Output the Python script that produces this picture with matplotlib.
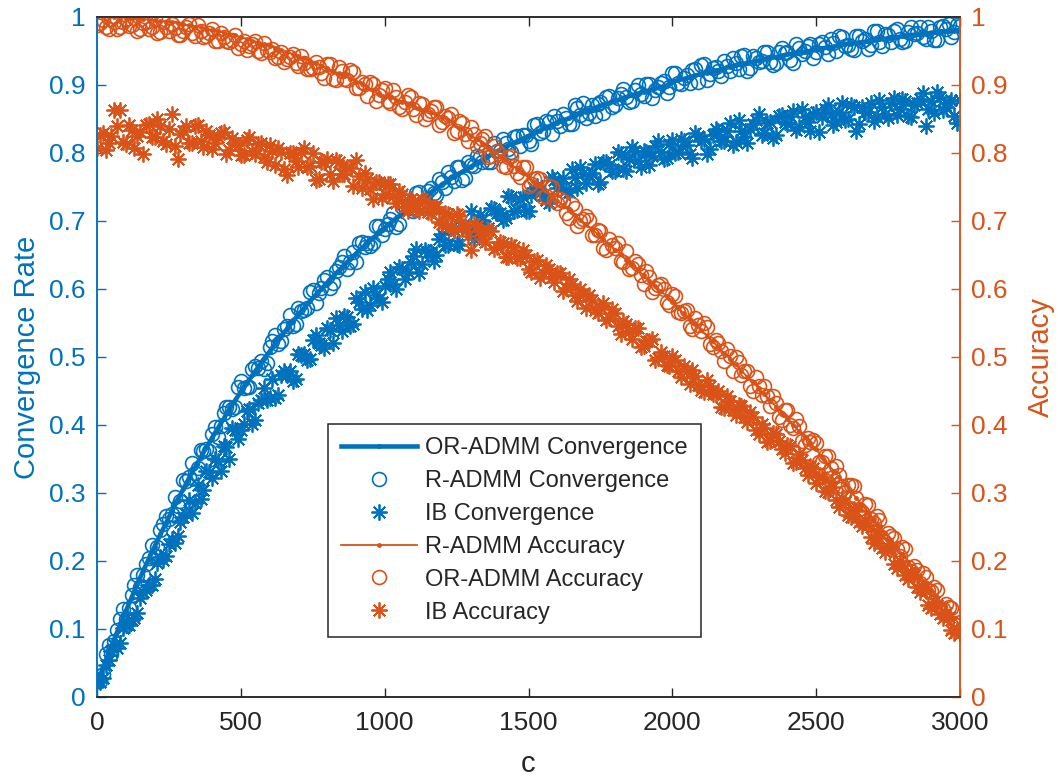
import numpy as np
import matplotlib
matplotlib.use("Agg")
import matplotlib.pyplot as plt

plt.rcParams['font.family'] = ['Liberation Sans', 'DejaVu Sans']

# c values: main samples (step 20) and the in-between samples
c = np.arange(0, 3001, 20)
c_mid = np.arange(10, 3000, 20)

or_conv = [0.020,0.042,0.064,0.085,0.106,0.126,0.146,0.166,0.185,0.203,
           0.221,0.239,0.256,0.273,0.290,0.306,0.322,0.337,0.352,0.367,
           0.381,0.395,0.409,0.423,0.436,0.449,0.461,0.473,0.485,0.497,
           0.508,0.520,0.531,0.541,0.552,0.562,0.572,0.582,0.591,0.600,
           0.609,0.618,0.627,0.635,0.644,0.652,0.660,0.667,0.675,0.682,
           0.690,0.697,0.704,0.710,0.717,0.723,0.730,0.736,0.742,0.748,
           0.753,0.759,0.765,0.770,0.775,0.780,0.785,0.790,0.795,0.800,
           0.804,0.809,0.813,0.817,0.821,0.825,0.829,0.833,0.837,0.841,
           0.844,0.848,0.851,0.855,0.858,0.861,0.864,0.868,0.871,0.873,
           0.876,0.879,0.882,0.885,0.887,0.890,0.892,0.895,0.897,0.899,
           0.905,0.907,0.909,0.911,0.914,0.916,0.918,0.920,0.922,0.924,
           0.927,0.929,0.930,0.932,0.934,0.936,0.938,0.940,0.941,0.943,
           0.945,0.946,0.948,0.949,0.950,0.953,0.954,0.955,0.956,0.958,
           0.960,0.961,0.962,0.963,0.964,0.966,0.967,0.968,0.969,0.970,
           0.972,0.973,0.974,0.974,0.975,0.977,0.978,0.979,0.979,0.980,0.981]

r_conv = [0.025,0.034,0.076,0.082,0.115,0.115,0.150,0.180,0.179,0.205,
          0.208,0.246,0.266,0.269,0.281,0.319,0.323,0.330,0.363,0.365,
          0.387,0.383,0.417,0.426,0.426,0.464,0.456,0.482,0.484,0.483,
          0.515,0.532,0.523,0.545,0.546,0.572,0.569,0.595,0.580,0.602,
          0.617,0.609,0.632,0.649,0.640,0.640,0.669,0.668,0.668,0.693,
          0.688,0.703,0.691,0.720,0.720,0.715,0.742,0.731,0.749,0.738,
          0.757,0.772,0.759,0.779,0.763,0.782,0.796,0.787,0.786,0.814,
          0.803,0.815,0.802,0.825,0.826,0.818,0.841,0.829,0.847,0.828,
          0.847,0.857,0.843,0.870,0.856,0.851,0.871,0.872,0.859,0.884,
          0.871,0.887,0.883,0.876,0.900,0.884,0.902,0.892,0.903,0.888,
          0.917,0.903,0.911,0.903,0.923,0.930,0.908,0.925,0.921,0.935,
          0.920,0.932,0.943,0.920,0.942,0.934,0.948,0.934,0.932,0.955,
          0.949,0.933,0.955,0.950,0.961,0.948,0.963,0.945,0.962,0.972,
          0.957,0.953,0.972,0.965,0.953,0.979,0.963,0.975,0.963,0.982,
          0.963,0.978,0.975,0.985,0.968,0.980,0.966,0.987,0.989,0.978,0.987]

r_conv_mid = [0.024,0.063,0.063,0.099,0.129,0.131,0.164,0.162,0.195,0.223,
              0.221,0.254,0.262,0.294,0.288,0.318,0.344,0.337,0.362,0.361,
              0.397,0.398,0.427,0.424,0.456,0.454,0.456,0.486,0.494,0.491,
              0.524,0.519,0.541,0.561,0.548,0.568,0.572,0.599,0.594,0.613,
              0.601,0.627,0.640,0.630,0.654,0.668,0.661,0.663,0.692,0.680,
              0.696,0.711,0.695,0.721,0.719,0.741,0.724,0.744,0.741,0.762,
              0.749,0.765,0.780,0.760,0.786,0.781,0.794,0.803,0.787,0.803,
              0.820,0.806,0.824,0.811,0.827,0.813,0.842,0.832,0.846,0.855,
              0.840,0.852,0.843,0.866,0.874,0.859,0.854,0.875,0.883,0.867,
              0.881,0.894,0.875,0.892,0.887,0.901,0.881,0.897,0.906,0.897,
              0.918,0.901,0.914,0.922,0.904,0.931,0.916,0.927,0.913,0.928,
              0.939,0.924,0.944,0.925,0.940,0.936,0.949,0.929,0.949,0.947,
              0.937,0.961,0.945,0.958,0.939,0.960,0.956,0.967,0.950,0.971,
              0.959,0.952,0.972,0.968,0.959,0.980,0.957,0.974,0.980,0.968,
              0.965,0.986,0.976,0.970,0.985,0.966,0.985,0.982,0.971,0.988]

ib_conv = [0.024,0.028,0.054,0.077,0.079,0.106,0.113,0.123,0.155,0.165,
           0.174,0.206,0.208,0.233,0.236,0.265,0.289,0.285,0.291,0.333,
           0.322,0.347,0.369,0.350,0.392,0.393,0.421,0.402,0.432,0.454,
           0.439,0.440,0.474,0.473,0.464,0.504,0.504,0.497,0.532,0.518,
           0.542,0.521,0.547,0.560,0.546,0.586,0.571,0.569,0.601,0.586,
           0.605,0.625,0.600,0.629,0.625,0.648,0.623,0.657,0.655,0.650,
           0.681,0.665,0.686,0.665,0.692,0.715,0.686,0.702,0.689,0.718,
           0.711,0.704,0.735,0.716,0.735,0.714,0.748,0.741,0.731,0.765,
           0.748,0.763,0.742,0.765,0.780,0.756,0.770,0.754,0.787,0.782,
           0.773,0.798,0.774,0.809,0.788,0.803,0.782,0.810,0.802,0.793,
           0.819,0.801,0.818,0.798,0.830,0.818,0.799,0.826,0.833,0.818,
           0.844,0.816,0.833,0.815,0.843,0.857,0.829,0.845,0.827,0.856,
           0.842,0.862,0.838,0.853,0.832,0.861,0.853,0.870,0.841,0.861,
           0.849,0.870,0.832,0.867,0.860,0.847,0.878,0.858,0.873,0.856,
           0.880,0.855,0.870,0.880,0.839,0.876,0.889,0.863,0.874,0.854,0.878]

ib_conv_mid = [0.022,0.047,0.068,0.072,0.102,0.106,0.116,0.145,0.158,0.165,
               0.197,0.201,0.225,0.227,0.258,0.269,0.270,0.311,0.304,0.331,
               0.350,0.333,0.368,0.396,0.380,0.401,0.424,0.408,0.437,0.436,
               0.468,0.444,0.479,0.480,0.467,0.503,0.495,0.525,0.520,0.513,
               0.540,0.557,0.538,0.559,0.548,0.581,0.595,0.577,0.591,0.581,
               0.614,0.608,0.632,0.614,0.639,0.659,0.636,0.655,0.641,0.673,
               0.664,0.690,0.666,0.691,0.690,0.674,0.709,0.693,0.719,0.711,
               0.702,0.736,0.715,0.733,0.714,0.738,0.752,0.738,0.727,0.760,
               0.756,0.746,0.776,0.748,0.771,0.768,0.784,0.757,0.786,0.774,
               0.801,0.777,0.791,0.803,0.779,0.802,0.796,0.817,0.791,0.813,
               0.800,0.821,0.812,0.793,0.825,0.821,0.806,0.836,0.818,0.832,
               0.812,0.848,0.823,0.835,0.849,0.826,0.844,0.822,0.854,0.845,
               0.855,0.834,0.864,0.846,0.857,0.831,0.864,0.857,0.845,0.873,
               0.850,0.868,0.843,0.861,0.874,0.853,0.867,0.851,0.881,0.864,
               0.876,0.853,0.874,0.888,0.865,0.859,0.883,0.867,0.878,0.844]

r_acc = [1.000,1.000,1.000,1.000,0.999,0.999,0.998,0.998,0.997,0.996,
         0.995,0.994,0.993,0.992,0.991,0.989,0.988,0.986,0.985,0.983,
         0.981,0.979,0.977,0.975,0.973,0.970,0.968,0.965,0.963,0.960,
         0.957,0.955,0.952,0.949,0.945,0.942,0.939,0.936,0.932,0.928,
         0.925,0.921,0.917,0.913,0.909,0.905,0.901,0.897,0.892,0.888,
         0.883,0.881,0.878,0.875,0.872,0.869,0.866,0.863,0.860,0.857,
         0.853,0.848,0.842,0.837,0.831,0.825,0.820,0.814,0.808,0.802,
         0.796,0.789,0.783,0.777,0.770,0.764,0.757,0.751,0.744,0.737,
         0.730,0.723,0.716,0.709,0.702,0.695,0.688,0.681,0.673,0.666,
         0.658,0.651,0.643,0.636,0.628,0.620,0.612,0.604,0.597,0.589,
         0.581,0.572,0.564,0.556,0.548,0.540,0.531,0.523,0.514,0.506,
         0.497,0.489,0.480,0.471,0.463,0.454,0.445,0.436,0.427,0.418,
         0.409,0.400,0.391,0.382,0.373,0.364,0.353,0.343,0.333,0.323,
         0.313,0.303,0.292,0.282,0.271,0.261,0.251,0.241,0.231,0.220,
         0.210,0.199,0.188,0.178,0.168,0.158,0.147,0.136,0.127,0.116,0.106]

or_acc = [0.988,0.996,0.982,0.993,0.985,0.997,0.988,0.979,0.991,0.983,
          0.997,0.978,0.985,0.989,0.974,0.980,0.989,0.972,0.980,0.972,
          0.983,0.964,0.970,0.963,0.974,0.960,0.952,0.961,0.950,0.962,
          0.948,0.940,0.949,0.938,0.946,0.928,0.933,0.924,0.934,0.918,
          0.931,0.909,0.926,0.909,0.922,0.896,0.904,0.884,0.902,0.886,
          0.895,0.873,0.883,0.864,0.886,0.864,0.873,0.850,0.862,0.868,
          0.846,0.852,0.830,0.847,0.828,0.838,0.811,0.820,0.794,0.810,
          0.797,0.779,0.795,0.771,0.779,0.752,0.761,0.762,0.736,0.750,
          0.726,0.730,0.705,0.719,0.700,0.707,0.679,0.686,0.660,0.674,
          0.660,0.641,0.656,0.631,0.637,0.608,0.618,0.601,0.608,0.581,
          0.593,0.566,0.568,0.545,0.558,0.538,0.544,0.514,0.521,0.494,
          0.502,0.500,0.473,0.480,0.450,0.457,0.457,0.428,0.433,0.408,
          0.422,0.396,0.399,0.371,0.375,0.374,0.346,0.354,0.324,0.327,
          0.301,0.311,0.293,0.272,0.283,0.256,0.260,0.228,0.237,0.217,
          0.221,0.191,0.192,0.167,0.177,0.156,0.157,0.129,0.132,0.107,0.110]

or_acc_mid = [0.991,0.985,0.997,0.982,0.992,0.987,0.999,0.982,0.992,0.986,
              0.976,0.992,0.980,0.984,0.973,0.985,0.976,0.988,0.970,0.976,
              0.964,0.977,0.964,0.966,0.954,0.964,0.957,0.965,0.947,0.952,
              0.953,0.941,0.934,0.941,0.933,0.943,0.924,0.925,0.926,0.911,
              0.931,0.908,0.920,0.908,0.919,0.895,0.901,0.905,0.877,0.892,
              0.877,0.893,0.868,0.875,0.882,0.856,0.872,0.858,0.868,0.841,
              0.854,0.857,0.833,0.844,0.817,0.828,0.815,0.825,0.796,0.803,
              0.781,0.794,0.781,0.764,0.780,0.755,0.763,0.735,0.752,0.731,
              0.733,0.712,0.725,0.692,0.703,0.702,0.680,0.685,0.658,0.664,
              0.668,0.640,0.630,0.641,0.621,0.627,0.595,0.606,0.600,0.576,
              0.589,0.564,0.569,0.541,0.547,0.550,0.519,0.525,0.509,0.512,
              0.480,0.492,0.480,0.458,0.471,0.444,0.442,0.443,0.411,0.422,
              0.400,0.409,0.377,0.381,0.378,0.345,0.354,0.336,0.339,0.310,
              0.312,0.310,0.276,0.284,0.262,0.266,0.233,0.241,0.234,0.208,
              0.217,0.185,0.186,0.183,0.157,0.161,0.131,0.136,0.131,0.106]

ib_acc = [0.807,0.829,0.815,0.863,0.863,0.813,0.834,0.825,0.798,0.843,
          0.824,0.839,0.813,0.857,0.791,0.832,0.814,0.839,0.818,0.833,
          0.806,0.824,0.831,0.805,0.815,0.797,0.819,0.803,0.813,0.794,
          0.812,0.783,0.802,0.768,0.800,0.779,0.808,0.781,0.760,0.787,
          0.791,0.759,0.786,0.769,0.778,0.790,0.748,0.761,0.733,0.758,
          0.739,0.755,0.727,0.740,0.714,0.728,0.714,0.730,0.711,0.720,
          0.696,0.710,0.685,0.707,0.692,0.657,0.693,0.673,0.687,0.659,
          0.669,0.647,0.664,0.645,0.658,0.630,0.641,0.616,0.635,0.617,
          0.623,0.597,0.614,0.591,0.600,0.572,0.584,0.565,0.579,0.557,
          0.565,0.534,0.548,0.526,0.542,0.516,0.524,0.496,0.507,0.488,
          0.501,0.479,0.487,0.460,0.472,0.452,0.466,0.445,0.450,0.425,
          0.435,0.415,0.428,0.405,0.412,0.386,0.395,0.376,0.387,0.365,
          0.370,0.344,0.357,0.336,0.339,0.315,0.324,0.302,0.309,0.279,
          0.287,0.265,0.273,0.251,0.253,0.226,0.234,0.213,0.217,0.189,
          0.194,0.173,0.179,0.155,0.156,0.131,0.135,0.116,0.117,0.094,0.093]

ib_acc_mid = [0.826,0.804,0.825,0.840,0.816,0.841,0.807,0.831,0.841,0.824,
              0.850,0.818,0.835,0.810,0.828,0.839,0.815,0.841,0.809,0.827,
              0.815,0.830,0.799,0.822,0.812,0.797,0.823,0.798,0.814,0.786,
              0.803,0.807,0.776,0.800,0.788,0.801,0.779,0.800,0.761,0.787,
              0.769,0.790,0.769,0.779,0.752,0.766,0.770,0.747,0.757,0.734,
              0.755,0.737,0.744,0.720,0.732,0.717,0.733,0.713,0.721,0.698,
              0.712,0.693,0.710,0.693,0.678,0.696,0.685,0.669,0.685,0.662,
              0.667,0.647,0.662,0.646,0.650,0.625,0.643,0.623,0.629,0.610,
              0.623,0.602,0.607,0.582,0.593,0.591,0.569,0.573,0.554,0.570,
              0.546,0.553,0.536,0.542,0.515,0.523,0.526,0.498,0.502,0.487,
              0.496,0.471,0.480,0.481,0.459,0.448,0.458,0.446,0.427,0.443,
              0.422,0.429,0.412,0.419,0.392,0.401,0.375,0.388,0.377,0.359,
              0.369,0.346,0.348,0.326,0.337,0.323,0.303,0.316,0.290,0.293,
              0.268,0.276,0.257,0.260,0.235,0.244,0.219,0.220,0.196,0.200,
              0.179,0.184,0.161,0.162,0.135,0.140,0.122,0.123,0.098,0.099]

blue = '#0072BD'
orange = '#D95319'
dark = '#262626'
star = (8, 2, 0)

c_all = np.concatenate([c, c_mid])

fig = plt.figure(figsize=(10.58, 7.79), dpi=100)
ax1 = fig.add_axes([0.0917, 0.1053, 0.8157, 0.8729])
ax2 = ax1.twinx()

l1, = ax1.plot(c, or_conv, '-', color=blue, lw=3.3, marker='.', ms=5)
l2, = ax1.plot(c_all, r_conv + r_conv_mid, 'o', color=blue, mfc='none', ms=10, mew=1.2)
l3, = ax1.plot(c_all, ib_conv + ib_conv_mid, ls='none', marker=star, color=blue,
               ms=11.5, mew=1.3)

l4, = ax2.plot(c, r_acc, '-', color=orange, lw=1.3, marker='.', ms=5)
l5, = ax2.plot(c_all, or_acc + or_acc_mid, 'o', color=orange, mfc='none', ms=10, mew=1.2)
l6, = ax2.plot(c_all, ib_acc + ib_acc_mid, ls='none', marker=star, color=orange,
               ms=11.5, mew=1.3)

ax1.set_xlim(0, 3000)
ax1.set_ylim(0, 1)
ax2.set_ylim(0, 1)
yt = np.arange(0, 1.01, 0.1)
ylabs = ['0'] + ['%.1f' % v for v in yt[1:-1]] + ['1']
ax1.set_yticks(yt)
ax1.set_yticklabels(ylabs)
ax2.set_yticks(yt)
ax2.set_yticklabels(ylabs)
ax1.set_xticks(np.arange(0, 3001, 500))

ax1.tick_params(axis='x', direction='in', length=6.5, width=1, colors=dark,
                labelsize=19, top=True, pad=10)
ax1.tick_params(axis='y', direction='in', length=6.5, width=1, colors=blue,
                labelsize=19, pad=8)
ax2.tick_params(axis='y', direction='in', length=6.5, width=1, colors=orange,
                labelsize=19, pad=8)

for ax in (ax1, ax2):
    for s in ax.spines.values():
        s.set_linewidth(1.1)
    ax.spines['top'].set_color(dark)
    ax.spines['bottom'].set_color(dark)
    ax.spines['left'].set_color(blue)
    ax.spines['right'].set_color(orange)

ax1.set_xlabel('c', fontsize=21, color=dark, labelpad=11)
ax1.set_ylabel('Convergence Rate', fontsize=21, color=blue, labelpad=6)
ax2.set_ylabel('Accuracy', fontsize=21, color=orange, labelpad=14)

leg = ax2.legend([l1, l2, l3, l4, l5, l6],
                 ['OR-ADMM Convergence', 'R-ADMM Convergence', 'IB Convergence',
                  'R-ADMM Accuracy', 'OR-ADMM Accuracy', 'IB Accuracy'],
                 loc='upper left', bbox_to_anchor=(0.268, 0.401), borderaxespad=0,
                 fontsize=17, frameon=True, fancybox=False, framealpha=1,
                 edgecolor=dark, handlelength=3.2, handletextpad=0.35,
                 labelspacing=0.46, borderpad=0.55)
leg.get_frame().set_linewidth(1.1)
for t in leg.get_texts():
    t.set_color(dark)

fig.savefig('out.png', dpi=100)
